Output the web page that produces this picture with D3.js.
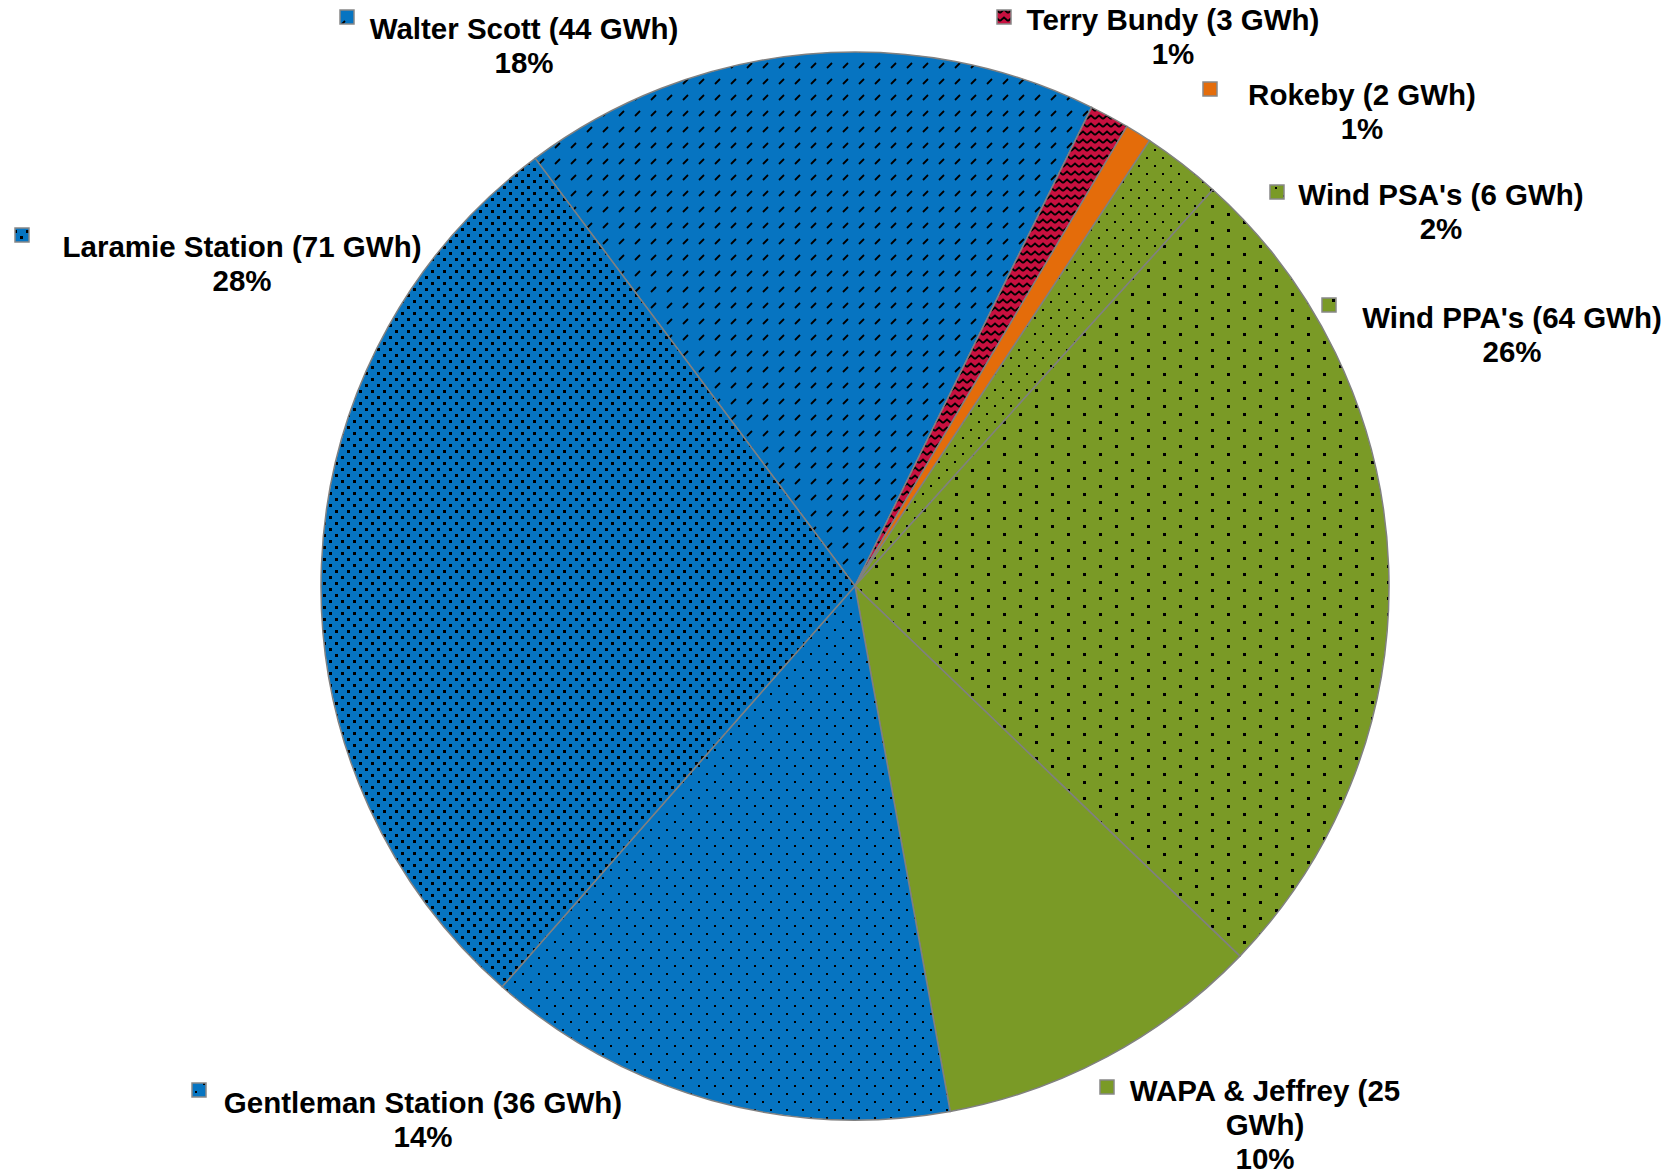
<!DOCTYPE html>
<html>
<head>
<meta charset="utf-8">
<script src="https://cdn.jsdelivr.net/npm/d3@7"></script>
<style>
  body { margin: 0; background: #fff; }
  text { font-family: "Liberation Sans", Arial, sans-serif; font-weight: bold; fill: #000; }
</style>
</head>
<body>
<div id="chart"></div>
<script>

// data, in the order the slices run clockwise
const sources = ["Walter Scott", "Terry Bundy", "Rokeby", "Wind PSA's", "Wind PPA's", "WAPA & Jeffrey", "Gentleman Station", "Laramie Station"];
const gwh = [44, 3, 2, 6, 64, 25, 36, 71];
const pctLabels = ["18%", "1%", "1%", "2%", "26%", "10%", "14%", "28%"];
const labelLines = [
    ["Walter Scott (44 GWh)"],
    ["Terry Bundy (3 GWh)"],
    ["Rokeby (2 GWh)"],
    ["Wind PSA's (6 GWh)"],
    ["Wind PPA's (64 GWh)"],
    ["WAPA & Jeffrey (25", "GWh)"],
    ["Gentleman Station (36 GWh)"],
    ["Laramie Station (71 GWh)"]
];

// where each label sits: marker top-left, text centre x, first baseline
const labelPos = [
    { mx: 340, my: 10, cx: 524, by: 39 },
    { mx: 997, my: 10, cx: 1173, by: 30 },
    { mx: 1203, my: 82, cx: 1362, by: 105 },
    { mx: 1270, my: 185, cx: 1441, by: 205 },
    { mx: 1322, my: 298, cx: 1512, by: 328 },
    { mx: 1100, my: 1080, cx: 1265, by: 1101 },
    { mx: 192, my: 1083, cx: 423, by: 1113 },
    { mx: 15, my: 228, cx: 242, by: 257 }
];

const width = 1670, height = 1174;
const cx = 855, cy = 586, radius = 534;

const blue = "#0674c1", green = "#7a9a26", red = "#c8103f", orange = "#e46c0a";

const svg = d3.select("#chart")
    .append("svg")
    .attr("width", width)
    .attr("height", height);

const defs = svg.append("defs");

function makePattern(id, w, h, bg, draw) {
    const p = defs.append("pattern")
        .attr("id", id)
        .attr("patternUnits", "userSpaceOnUse")
        .attr("width", w)
        .attr("height", h);
    p.append("rect").attr("width", w).attr("height", h).attr("fill", bg);
    draw(p);
    return "url(#" + id + ")";
}

function dots(p, pts, s) {
    pts.forEach(d => p.append("rect")
        .attr("x", d[0]).attr("y", d[1])
        .attr("width", s).attr("height", s)
        .attr("fill", "#000"));
}

const fills = [
    // dashed upward diagonal
    makePattern("p-walter", 16, 16, blue, p => {
        p.append("path").attr("d", "M4,10 L9,5").attr("stroke", "#000").attr("stroke-width", 1.8).attr("fill", "none");
    }),
    // zigzag
    makePattern("p-terry", 8, 8, red, p => {
        p.append("path").attr("d", "M0,5 L4,1.5 L8,5").attr("stroke", "#000").attr("stroke-width", 1.8).attr("fill", "none");
    }),
    orange,
    makePattern("p-psa", 16, 16, green, p => dots(p, [[3, 3], [11, 11]], 2)),
    makePattern("p-ppa", 32, 16, green, p => dots(p, [[4, 3], [20, 11]], 3)),
    green,
    makePattern("p-gent", 16, 16, blue, p => dots(p, [[3, 3], [11, 11]], 2)),
    makePattern("p-lar", 12, 12, blue, p => dots(p, [[2, 2], [8, 8]], 3))
];

const startAngle = -36.8 * Math.PI / 180;

const pie = d3.pie()
    .sort(null)
    .value(d => d)
    .startAngle(startAngle)
    .endAngle(startAngle + 2 * Math.PI);

const arc = d3.arc().innerRadius(0).outerRadius(radius);

const g = svg.append("g")
    .attr("transform", `translate(${cx},${cy})`);

g.selectAll("path")
    .data(pie(gwh))
    .enter().append("path")
    .attr("d", arc)
    .attr("fill", (d, i) => fills[i])
    .attr("stroke", "#808080")
    .attr("stroke-width", 1.5);

// labels with their little legend squares
const labels = svg.append("g")
    .selectAll("g")
    .data(sources)
    .enter().append("g");

labels.append("rect")
    .attr("x", (d, i) => labelPos[i].mx)
    .attr("y", (d, i) => labelPos[i].my)
    .attr("width", 14)
    .attr("height", 14)
    .attr("fill", (d, i) => fills[i])
    .attr("stroke", "#888")
    .attr("stroke-width", 1.5);

labels.append("text")
    .attr("text-anchor", "middle")
    .attr("font-size", 29.5)
    .each(function (d, i) {
        const lines = labelLines[i].concat([pctLabels[i]]);
        const t = d3.select(this);
        lines.forEach((line, j) => {
            t.append("tspan")
                .attr("x", labelPos[i].cx)
                .attr("y", labelPos[i].by + j * 34)
                .text(line);
        });
    });

</script>
</body>
</html>
